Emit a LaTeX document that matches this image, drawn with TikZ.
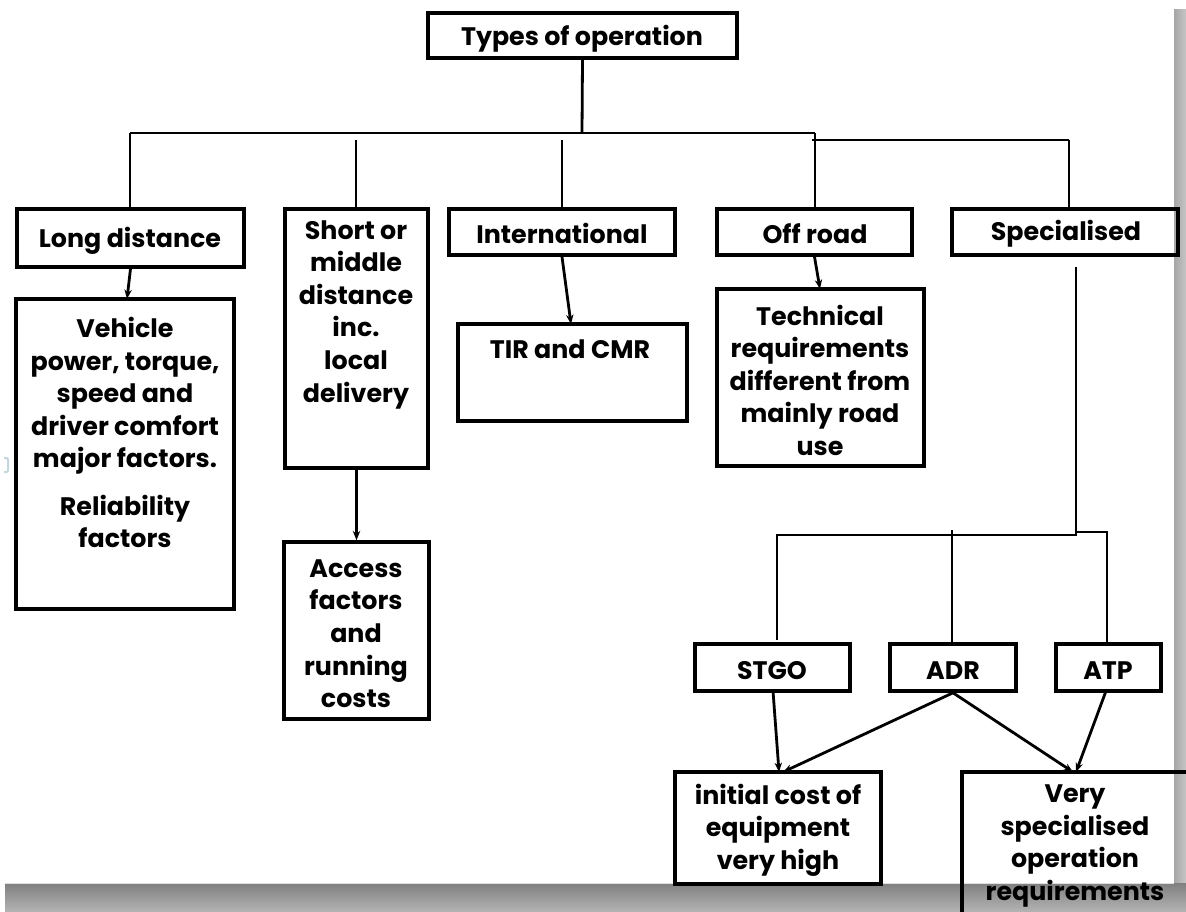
\documentclass[tikz,border=0pt]{standalone}
\usepackage{fontspec}
\setmainfont{Poppins}
\usetikzlibrary{arrows.meta}
\begin{document}
\begin{tikzpicture}[x=0.75pt,y=-0.75pt,
  box/.style={draw=black,line width=2.7pt,inner sep=0pt},
  sz/.style 2 args={minimum width=#1*0.75pt,minimum height=#2*0.75pt},
  txt/.style={inner sep=0pt,align=center,yshift=-2pt,font=\fontsize{19}{24.4}\selectfont\bfseries},
  link/.style={line width=2.1pt},
  arr/.style={line width=2.1pt,-{Stealth[length=7pt,width=5.5pt]}}]
\useasboundingbox (0,0) rectangle (1186,911);
% slide shadow
\fill[left color=gray!70, right color=gray!45] (1174,9) rectangle (1186,883);
\fill[top color=black!50, bottom color=black!30] (5,883) rectangle (1186,911);
\draw[gray!25, line width=1pt] (5,883.5) -- (1174,883.5);
% small margin mark
\draw[cyan!30!gray!40, line width=1.5pt, rounded corners=1pt] (4,458) -- (8,458) -- (8,472) -- (4,472);

% boxes: centre, width, height
\node[box, sz={309}{45}] (top) at (582.5,35.5) {};
\node[box, sz={227}{58}] (ld) at (130.5,238) {};
\node[box, sz={143}{259}] (sm) at (356.5,338.5) {};
\node[box, sz={226}{46}] (intl) at (562,232) {};
\node[box, sz={195}{46}] (off) at (814.5,232) {};
\node[box, sz={226}{46}] (spec) at (1065,232) {};
\node[box, sz={218}{310}] (veh) at (125,454) {};
\node[box, sz={145}{177}] (acc) at (356.5,630.5) {};
\node[box, sz={229}{97}] (tir) at (572.5,372.5) {};
\node[box, sz={207}{177}] (tech) at (820.5,377.5) {};
\node[box, sz={155}{47}] (stgo) at (772.5,667.5) {};
\node[box, sz={126}{47}] (adr) at (953,667.5) {};
\node[box, sz={105}{47}] (atp) at (1108.5,667.5) {};
\node[box, sz={206}{112}] (init) at (778,828) {};
\node[box, sz={250}{170}] (very) at (1087,857) {};

% texts
\node[txt] (ttop) at (582,36) {Types of operation};
\node[txt] (tld) at (130,238) {Long distance};
\node[txt] (tsm) at (356,312) {Short or\\middle\\distance\\inc.\\local\\delivery};
\node[txt] (tintl) at (562,231) {International};
\node[txt] (toff) at (815,231) {Off road};
\node[txt] (tspec) at (1066,231) {Specialised};
\node[txt] (tveh) at (125,430) {Vehicle\\power, torque,\\speed and\\driver comfort\\major factors.\\[11pt]Reliability\\factors};
\node[txt] (tacc) at (356,631) {Access\\factors\\and\\running\\costs};
\node[txt] (ttir) at (570,347) {TIR and CMR};
\node[txt] (ttech) at (820,377.5) {Technical\\requirements\\different from\\mainly road\\use};
\node[txt] (tstgo) at (772,668) {STGO};
\node[txt] (tadr) at (953,668) {ADR};
\node[txt] (tatp) at (1108,668) {ATP};
\node[txt] (tinit) at (778,827.5) {initial cost of\\equipment\\very high};
\node[txt] (tvery) at (1075,843.5) {Very\\specialised\\operation\\requirements};

% junction points of the branching lines
\coordinate (busL) at (130,133);
\coordinate (busR) at (815,133);
\coordinate (bus2L) at (812,140);
\coordinate (bus2R) at (1069,140);
\coordinate (smTop) at (356,140);
\coordinate (intlTop) at (562,140);
\coordinate (specDrop) at (1076,267);
\coordinate (specJ) at (1076,535);
\coordinate (stgoJ) at (777,535);
\coordinate (stgoEnd) at (777,640);
\coordinate (adrJ) at (952,530);
\coordinate (atpJ1) at (1076,532);
\coordinate (atpJ2) at (1107,532);

% tree from the top box
\draw[link] (top.south) -- (582,133);
\draw[link] (busL) -- (busR);
\draw[link] (bus2L) -- (bus2R);
\draw[link] (busL) -- (busL |- ld.north);
\draw[link] (smTop) -- (smTop |- sm.north);
\draw[link] (intlTop) -- (intlTop |- intl.north);
\draw[link] (busR) -- (busR |- off.north);
\draw[link] (bus2R) -- (bus2R |- spec.north);

% first-level arrows
\draw[arr] (ld.south) -- (127,299);
\draw[arr] (sm.south) -- (acc.north);
\draw[arr] (intl.south) -- (571,324);
\draw[arr] (off.south) -- (820,289);

% specialised branches
\draw[link] (specDrop) -- (specJ) -- (stgoJ) -- (stgoEnd);
\draw[link] (adrJ) -- (adrJ |- adr.north);
\draw[link] (atpJ1) -- (atpJ2) -- (atpJ2 |- atp.north);

% second-level arrows
\draw[arr] (773,691) -- (779,772);
\draw[arr] (adr.south) -- (783,772);
\draw[arr] (adr.south) -- (1073,772);
\draw[arr] (1106,691) -- (1076,772);
\end{tikzpicture}
\end{document}
